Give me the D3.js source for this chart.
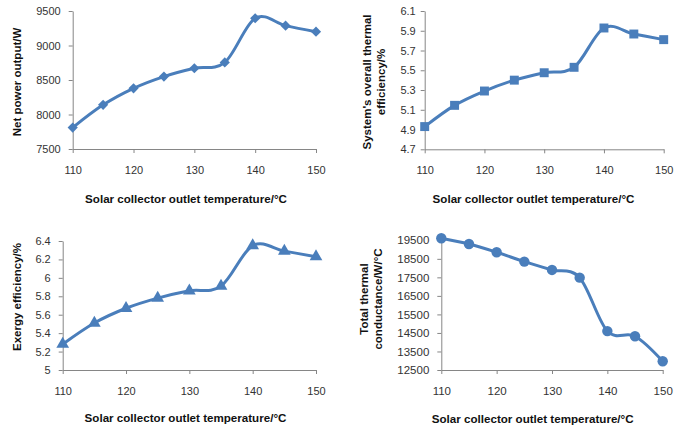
<!DOCTYPE html>
<meta charset="utf-8">
<script src="https://d3js.org/d3.v7.min.js"></script>
<style>
 body { margin: 0; background: #fff; }
 svg { display: block; font-family: "Liberation Sans", Arial, sans-serif; }
</style>
<div id="chart"></div>
<script>
 const colorLine = "#4a7ebb";
 const colorAxis = "#868686";
 const colorText = "#333";

 // data
 const temps = [110, 115, 120, 125, 130, 135, 140, 145, 150];
 const netPower = [7810, 8140, 8380, 8550, 8670, 8755, 9395, 9288, 9200];
 const thermalEff = [4.93, 5.145, 5.29, 5.40, 5.475, 5.53, 5.928, 5.867, 5.81];
 const exergyEff = [5.28, 5.51, 5.67, 5.78, 5.86, 5.91, 6.35, 6.29, 6.23];
 const conductance = [19610, 19300, 18855, 18350, 17900, 17485, 14600, 14320, 12970];

 const xTicks = [110, 120, 130, 140, 150];
 const yTicks1 = [7500, 8000, 8500, 9000, 9500];
 const yTicks2 = [4.7, 4.9, 5.1, 5.3, 5.5, 5.7, 5.9, 6.1];
 const yTicks3 = [5, 5.2, 5.4, 5.6, 5.8, 6, 6.2, 6.4];
 const yTicks4 = [12500, 13500, 14500, 15500, 16500, 17500, 18500, 19500];

 const xTitle = "Solar collector outlet temperature/°C";

 // layout of the four panels
 const panels = [
   {values: netPower, ticks: yTicks1, marker: d3.symbolSquare, rot: 45, msize: 52,
    x0: 72.7, x1: 316, yTop: 11, yBot: 149, gap: 12, tickSize: 11,
    yTitle: ["Net power output/W"], yTitleX: 18, yTitleCy: 82, titleCx: 186, titleY: 200},
   {values: thermalEff, ticks: yTicks2, marker: d3.symbolSquare, rot: 0, msize: 80,
    x0: 424.7, x1: 663.7, yTop: 11, yBot: 149.3, gap: 9, tickSize: 11,
    yTitle: ["System's overall thermal", "efficiency/%"], yTitleX: 368, yTitleCy: 82, titleCx: 533.5, titleY: 200},
   {values: exergyEff, ticks: yTicks3, marker: d3.symbolTriangle, rot: 0, msize: 70,
    x0: 62.7, x1: 316, yTop: 241, yBot: 370, gap: 12, tickSize: 11,
    yTitle: ["Exergy efficiency/%"], yTitleX: 18, yTitleCy: 297, titleCx: 185.5, titleY: 419},
   {values: conductance, ticks: yTicks4, marker: d3.symbolCircle, rot: 0, msize: 85,
    x0: 441.3, x1: 662.7, yTop: 240.3, yBot: 370, gap: 12, tickSize: 11.5,
    yTitle: ["Total thermal", "conductance/W/°C"], yTitleX: 365, yTitleCy: 299, titleCx: 532.7, titleY: 420}
 ];

 const svg = d3.select("#chart").append("svg")
   .attr("width", 684).attr("height", 432);

 panels.forEach(p => {
   const x = d3.scaleLinear().domain([110, 150]).range([p.x0, p.x1]);
   const y = d3.scaleLinear().domain(d3.extent(p.ticks)).range([p.yBot, p.yTop]);
   const g = svg.append("g");

   // y axis
   const ya = g.append("g").attr("transform", `translate(${p.x0},0)`)
     .call(d3.axisLeft(y).tickValues(p.ticks).tickSize(4).tickSizeOuter(0)
       .tickPadding(p.gap - 4).tickFormat(d => String(d)));
   // x axis
   const xa = g.append("g").attr("transform", `translate(0,${p.yBot})`)
     .call(d3.axisBottom(x).tickValues(xTicks).tickSize(4).tickSizeOuter(0)
       .tickPadding(13).tickFormat(d => String(d)));
   [ya, xa].forEach(a => {
     a.select(".domain").attr("stroke", colorAxis).attr("stroke-width", 1);
     a.selectAll(".tick line").attr("stroke", colorAxis);
     a.selectAll(".tick text").attr("fill", colorText)
       .style("font-size", p.tickSize + "px").style("font-family", "Liberation Sans, Arial");
   });

   // line
   const line = d3.line()
     .x((d, i) => x(temps[i]))
     .y(d => y(d))
     .curve(d3.curveCardinal.tension(0));
   g.append("path").datum(p.values)
     .attr("d", line)
     .attr("fill", "none")
     .attr("stroke", colorLine)
     .attr("stroke-width", 3)
     .attr("stroke-linejoin", "round");

   // markers
   g.selectAll(".m").data(p.values).join("path")
     .attr("d", d3.symbol().type(p.marker).size(p.msize))
     .attr("transform", (d, i) => `translate(${x(temps[i])},${y(d)}) rotate(${p.rot})`)
     .attr("fill", colorLine);

   // x title
   g.append("text")
     .attr("x", p.titleCx).attr("y", p.titleY)
     .attr("text-anchor", "middle").attr("dominant-baseline", "middle")
     .attr("font-weight", "bold").attr("font-size", "11.6px")
     .attr("fill", "#111")
     .text(xTitle);

   // y title (rotated, possibly two lines)
   p.yTitle.forEach((t, k) => {
     const tx = p.yTitleX + k * 14;
     g.append("text")
       .attr("transform", `translate(${tx},${p.yTitleCy}) rotate(-90)`)
       .attr("text-anchor", "middle").attr("dominant-baseline", "middle")
       .attr("font-weight", "bold").attr("font-size", "11.5px")
       .attr("fill", "#111")
       .text(t);
   });
 });
</script>
